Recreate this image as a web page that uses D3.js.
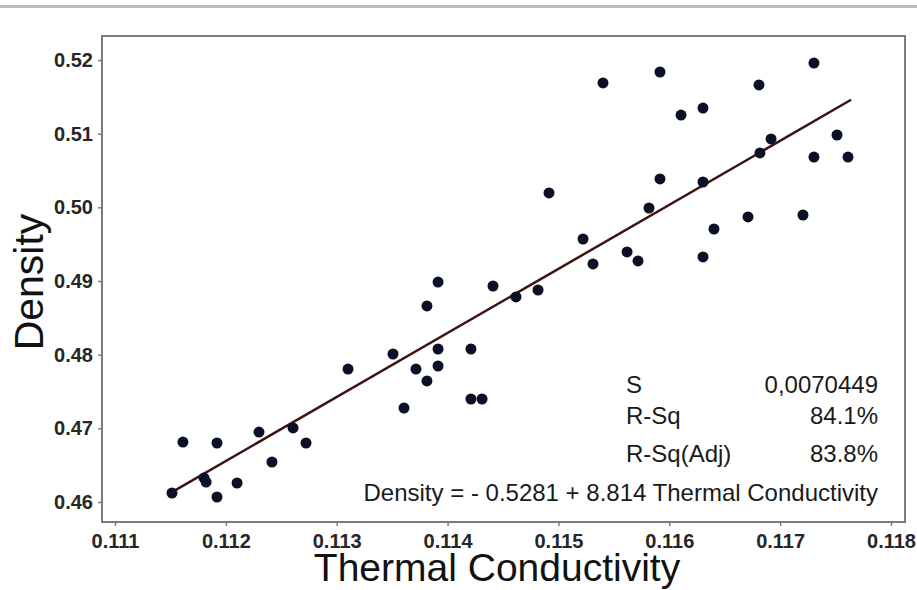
<!DOCTYPE html>
<html>
<head>
<meta charset="utf-8">
<script src="https://cdn.jsdelivr.net/npm/d3@7"></script>
<style>
  body { margin: 0; background: #fff; }
  svg { display: block; font-family: "Liberation Sans", Arial, sans-serif; }
</style>
</head>
<body>
<div id="chart"></div>
<script>
// Thermal conductivity vs density
const conductivity = [
  0.111514, 0.111613, 0.111803, 0.111822, 0.111920, 0.111920, 0.112101, 0.112299,
  0.112416, 0.112606, 0.112723, 0.113102, 0.113508, 0.113607, 0.113715, 0.113814,
  0.113814, 0.113914, 0.113914, 0.113914, 0.114211, 0.114211, 0.114311, 0.114410,
  0.114617, 0.114816, 0.114915, 0.115222, 0.115312, 0.115402, 0.115619, 0.115718,
  0.115817, 0.115916, 0.115916, 0.116106, 0.116304, 0.116304, 0.116304, 0.116403,
  0.116710, 0.116809, 0.116818, 0.116918, 0.117206, 0.117305, 0.117305, 0.117513,
  0.117612
];
const density = [
  0.46122, 0.46814, 0.46326, 0.46271, 0.46801, 0.46068, 0.46258, 0.46950,
  0.46543, 0.47005, 0.46801, 0.47805, 0.48009, 0.47276, 0.47805, 0.47643,
  0.48661, 0.48986, 0.48077, 0.47846, 0.48077, 0.47398, 0.47398, 0.48932,
  0.48783, 0.48878, 0.50195, 0.49570, 0.49231, 0.51688, 0.49394, 0.49272,
  0.49991, 0.51837, 0.50385, 0.51253, 0.51348, 0.50344, 0.49326, 0.49706,
  0.49869, 0.51661, 0.50738, 0.50928, 0.49896, 0.51959, 0.50683, 0.50982,
  0.50683
];

// fitted line ends as drawn
const fitX = [0.11151, 0.11764];
const fitY = [0.4613, 0.5146];

const xTicks = [0.111, 0.112, 0.113, 0.114, 0.115, 0.116, 0.117, 0.118];
const yTicks = [0.46, 0.47, 0.48, 0.49, 0.50, 0.51, 0.52];

const statLabels = ["S", "R-Sq", "R-Sq(Adj)"];
const statValues = ["0,0070449", "84.1%", "83.8%"];
const equation = "Density = - 0.5281 + 8.814 Thermal Conductivity";

const width = 917, height = 590;
const frame = {left: 102, right: 905, top: 36, bottom: 522};

const svg = d3.select("#chart").append("svg")
    .attr("width", width).attr("height", height);

// grey strip at the very top of the screenshot
svg.append("rect").attr("x", 0).attr("y", 5).attr("width", width).attr("height", 3)
    .attr("fill", "#bdbdbd");

const x = d3.scaleLinear().domain([0.111, 0.118]).range([115, 891]);
const y = d3.scaleLinear().domain([0.46, 0.52]).range([502, 60]);

//Frame
svg.append("rect")
    .attr("x", frame.left).attr("y", frame.top)
    .attr("width", frame.right - frame.left).attr("height", frame.bottom - frame.top)
    .attr("fill", "none").attr("stroke", "#7a7a7a").attr("stroke-width", 2);

//Axes
let xAxis = d3.axisBottom(x).tickValues(xTicks).tickFormat(d3.format(".3f"))
    .tickSizeOuter(0).tickSize(4).tickPadding(8);
let yAxis = d3.axisLeft(y).tickValues(yTicks).tickFormat(d3.format(".2f"))
    .tickSizeOuter(0).tickSize(4).tickPadding(5);

let xAxisGroup = svg.append("g").attr("transform", `translate(0, ${frame.bottom})`).call(xAxis);
let yAxisGroup = svg.append("g").attr("transform", `translate(${frame.left}, 0)`).call(yAxis);

[xAxisGroup, yAxisGroup].forEach(g => {
    g.select(".domain").remove();
    g.selectAll("line").attr("stroke", "#7a7a7a").attr("stroke-width", 1.5);
    g.selectAll("text")
        .attr("font-size", 20)
        .attr("font-weight", "bold")
        .attr("fill", "#262626")
        .style("font-family", "'Liberation Sans', Arial, sans-serif");
});

//Axis titles
svg.append("text").text("Thermal Conductivity")
    .attr("x", 497).attr("y", 581)
    .attr("text-anchor", "middle")
    .attr("font-size", 39)
    .attr("fill", "#111");

svg.append("text").text("Density")
    .attr("transform", "translate(43, 282) rotate(-90)")
    .attr("text-anchor", "middle")
    .attr("font-size", 41)
    .attr("fill", "#111");

//Fit line
const fit = fitX.map((d, i) => [d, fitY[i]]);
svg.append("path")
    .datum(fit)
    .attr("d", d3.line().x(d => x(d[0])).y(d => y(d[1])))
    .attr("fill", "none")
    .attr("stroke", "#3d1414")
    .attr("stroke-width", 2.5);

//Points
const pts = conductivity.map((d, i) => ({tc: d, rho: density[i]}));
svg.append("g").selectAll("circle").data(pts).enter().append("circle")
    .attr("cx", d => x(d.tc))
    .attr("cy", d => y(d.rho))
    .attr("r", 5.5)
    .attr("fill", "#0c1026");

//Regression summary
const statY = [393, 424, 462];
statLabels.forEach((s, i) => {
    svg.append("text").text(s)
        .attr("x", 626).attr("y", statY[i])
        .attr("font-size", 24).attr("fill", "#1a1a1a");
    svg.append("text").text(statValues[i])
        .attr("x", 878).attr("y", statY[i])
        .attr("text-anchor", "end")
        .attr("font-size", 24).attr("fill", "#1a1a1a");
});
svg.append("text").text(equation)
    .attr("x", 878).attr("y", 501)
    .attr("text-anchor", "end")
    .attr("font-size", 24).attr("fill", "#1a1a1a");
</script>
</body>
</html>
